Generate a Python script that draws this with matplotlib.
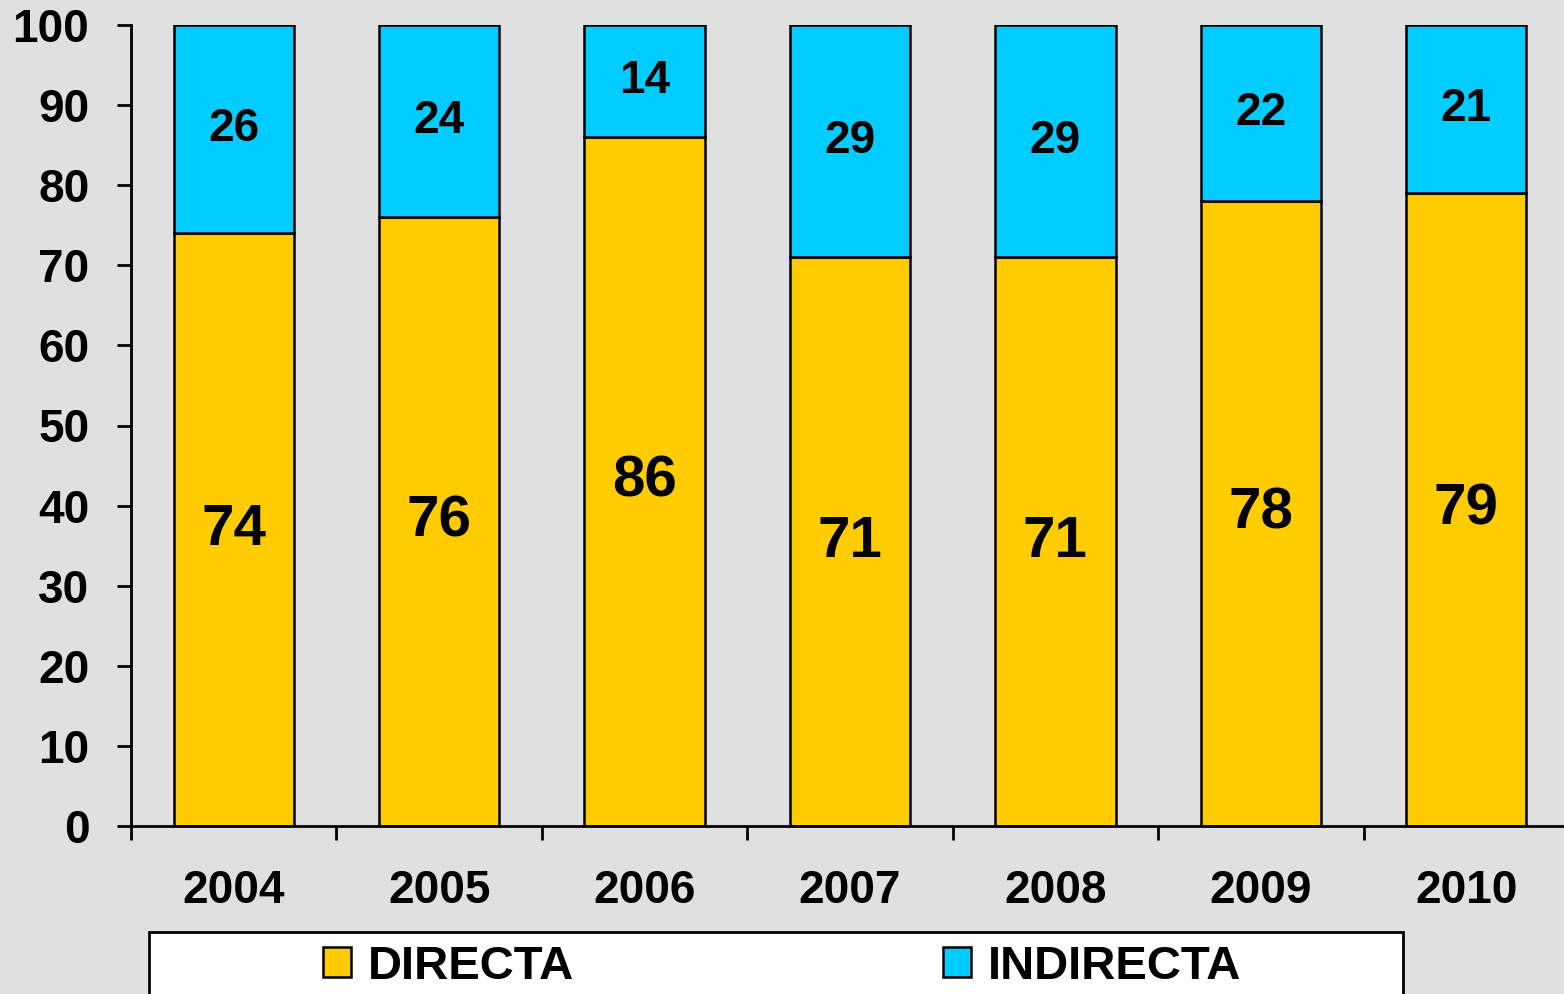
import matplotlib
matplotlib.use('Agg')
import matplotlib.pyplot as plt
from matplotlib.patches import Rectangle
import numpy as np

plt.rcParams['font.family'] = ['Liberation Sans', 'DejaVu Sans']
plt.rcParams['font.weight'] = 'bold'

# data
years = ['2004', '2005', '2006', '2007', '2008', '2009', '2010']
directa = [74, 76, 86, 71, 71, 78, 79]
indirecta = [26, 24, 14, 29, 29, 22, 21]

bg = '#E0E0E0'
yellow = '#FFCC00'
cyan = '#00CCFF'

fig = plt.figure(figsize=(15.64, 9.94), dpi=100)
fig.patch.set_facecolor(bg)
ax = fig.add_axes([131 / 1564, 1 - 826 / 994, 1438 / 1564, 801 / 994])
ax.set_facecolor(bg)

x = np.arange(len(years))
b1 = ax.bar(x, directa, width=0.585, color=yellow, edgecolor='black', linewidth=1.8, label='DIRECTA')
b2 = ax.bar(x, indirecta, width=0.585, bottom=directa, color=cyan, edgecolor='black', linewidth=1.8, label='INDIRECTA')

ax.bar_label(b1, label_type='center', fontsize=42, fontweight='bold')
ax.bar_label(b2, label_type='center', fontsize=33, fontweight='bold')

ax.set_xlim(-0.5, 6.5)
ax.set_ylim(0, 100)
ax.set_yticks(np.arange(0, 101, 10))
ax.set_xticks(x)
ax.set_xticklabels(years)
ax.set_xticks(np.arange(-0.5, 6.5, 1), minor=True)

for s in ['top', 'right']:
    ax.spines[s].set_visible(False)
for s in ['left', 'bottom']:
    ax.spines[s].set_linewidth(2)

ax.tick_params(axis='y', labelsize=33, width=2, length=10, pad=20)
ax.tick_params(axis='x', which='major', labelsize=33, length=0, pad=31)
ax.tick_params(axis='x', which='minor', width=2, length=10)

# legend box
fig.patches.append(Rectangle((149 / 1564, -0.05), 1254 / 1564, 0.05 + 1 - 932 / 994,
                             transform=fig.transFigure, facecolor='white',
                             edgecolor='black', linewidth=2, zorder=0))
fig.legend(handles=[b1, b2], loc='center', bbox_to_anchor=(0.5, 1 - 967 / 994),
           ncol=2, frameon=False, fontsize=34, columnspacing=7.8,
           handlelength=0.6, handleheight=0.6, handletextpad=0.36)

fig.savefig('out.png', dpi=100, facecolor=bg)
